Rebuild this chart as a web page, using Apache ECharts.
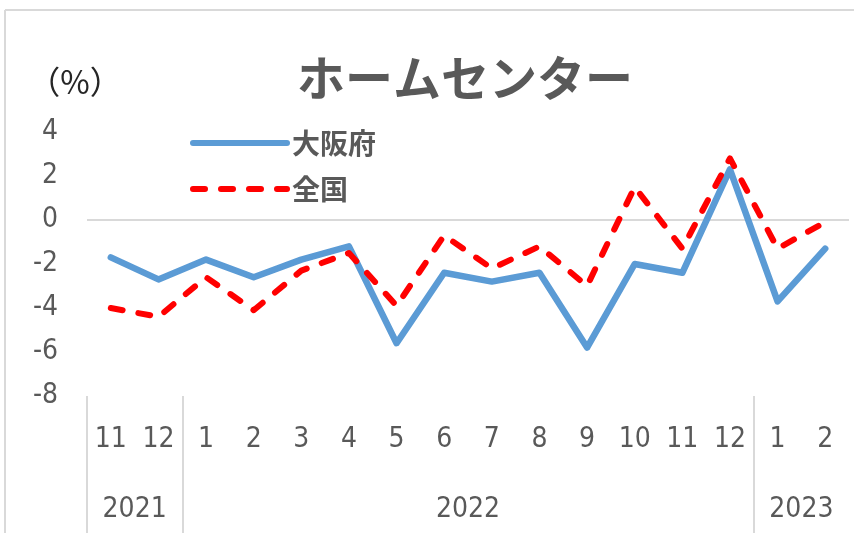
<!DOCTYPE html>
<html>
<head>
<meta charset="utf-8">
<title>ホームセンター</title>
<style>
    body{ margin:0; background:#FFFFFF; }
    #main{ width:854px; height:533px; }
</style>
<script src="https://cdn.jsdelivr.net/npm/echarts@6/dist/echarts.min.js"></script>
</head>
<body>
<div id="main"></div>
<script>
    // 月（横軸）
    var months = ['11','12','1','2','3','4','5','6','7','8','9','10','11','12','1','2'];
    // 年とその月数
    var years = ['2021','2022','2023'];
    var yearSpans = [2, 12, 2];
    // 前年同月比（%）
    var osaka   = [-1.7,-2.7,-1.8,-2.6,-1.8,-1.2,-5.6,-2.4,-2.8,-2.4,-5.8,-2.0,-2.4,2.3,-3.7,-1.3];
    var zenkoku = [-4.0,-4.4,-2.6,-4.1,-2.3,-1.5,-3.9,-0.7,-2.2,-1.2,-3.0,1.5,-1.3,2.8,-1.3,-0.1];

    var numFont = "'Liberation Sans Narrow', 'DejaVu Sans Condensed', sans-serif";
    var jpFont = "'Noto Sans CJK JP', sans-serif";
    var gray = '#595959';

    // 年の区切りと中央位置
    var yearBounds = [0], yearCenters = [];
    var pos = 0;
    for (var i = 0; i < yearSpans.length; i++) {
        yearCenters.push(pos + yearSpans[i] / 2);
        pos += yearSpans[i];
        yearBounds.push(pos);
    }
    yearBounds.pop();

    var myChart = echarts.init(document.getElementById('main'));

    var option = {
        animation: false,
        title: {
            text: 'ホームセンター',
            left: 292,
            top: 49,
            textStyle: { fontFamily: jpFont, fontSize: 48, fontWeight: 'bold', color: gray }
        },
        legend: {
            orient: 'vertical',
            left: 185,
            top: 122,
            itemWidth: 94,
            itemHeight: 14,
            itemGap: 14,
            data: ['大阪府', '全国'],
            itemStyle: { opacity: 0 },
            lineStyle: { width: 6, cap: 'round' },
            textStyle: { fontFamily: jpFont, fontSize: 28, fontWeight: 'bold', color: gray, lineHeight: 32 }
        },
        graphic: [
            { type: 'line', shape: { x1: 5, y1: 10, x2: 854, y2: 10 }, style: { stroke: '#d9d9d9', lineWidth: 2 }, silent: true },
            { type: 'line', shape: { x1: 5, y1: 10, x2: 5, y2: 533 }, style: { stroke: '#d9d9d9', lineWidth: 2 }, silent: true }
        ],
        grid: { left: 87, right: 5, top: 132, bottom: 137 },
        xAxis: [{
            type: 'category',
            data: months,
            position: 'bottom',
            axisLine: { show: false, onZero: false },
            axisTick: { show: false },
            axisLabel: { fontFamily: numFont, fontSize: 28, color: gray, margin: 30, interval: 0 }
        }, {
            type: 'value',
            min: 0,
            max: months.length,
            position: 'bottom',
            axisLine: { show: false, onZero: false },
            splitLine: { show: false },
            axisTick: {
                show: true,
                customValues: yearBounds,
                length: 137,
                lineStyle: { color: '#d9d9d9', width: 2 }
            },
            axisLabel: {
                customValues: yearCenters,
                margin: 100,
                fontFamily: numFont, fontSize: 28, color: gray,
                formatter: function (v) {
                    var k = yearCenters.indexOf(v);
                    return k >= 0 ? years[k] : '';
                }
            }
        }],
        yAxis: {
            type: 'value',
            min: -8,
            max: 4,
            interval: 2,
            name: '（%）',
            nameLocation: 'end',
            nameGap: 34,
            nameTextStyle: { fontFamily: jpFont, fontSize: 32, color: '#262626', padding: [0, 24, 0, 0] },
            axisLine: { show: false },
            axisTick: { show: false },
            splitLine: { show: false },
            axisLabel: { fontFamily: numFont, fontSize: 28, color: gray, margin: 29 }
        },
        series: [{
            name: '大阪府',
            type: 'line',
            xAxisIndex: 0,
            data: osaka,
            symbol: 'none',
            color: '#5B9BD5',
            lineStyle: { color: '#5B9BD5', width: 6.5, cap: 'round', join: 'round' },
            markLine: {
                silent: true,
                symbol: 'none',
                z: 1,
                label: { show: false },
                lineStyle: { color: '#d9d9d9', width: 2, type: 'solid' },
                data: [{ yAxis: 0 }]
            }
        }, {
            name: '全国',
            type: 'line',
            xAxisIndex: 0,
            data: zenkoku,
            symbol: 'none',
            color: '#FF0000',
            lineStyle: { color: '#FF0000', width: 6, type: [12, 16], cap: 'round', join: 'round' }
        }]
    };

    myChart.setOption(option);
</script>
</body>
</html>
